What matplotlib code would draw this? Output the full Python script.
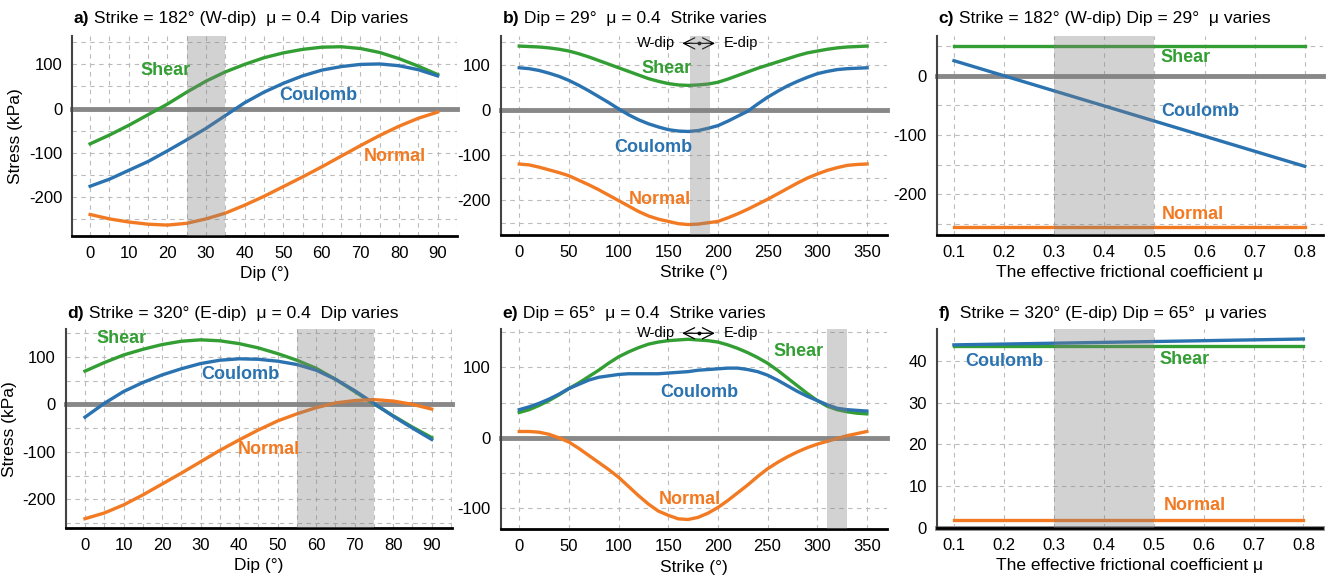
import matplotlib
matplotlib.use('Agg')
import matplotlib.pyplot as plt
from matplotlib.ticker import MultipleLocator, NullLocator

plt.rcParams['font.family'] = ['Liberation Sans', 'DejaVu Sans']
plt.rcParams['axes.unicode_minus'] = False

# x values
dip = list(range(0, 95, 5))
strike = list(range(0, 360, 10))
mu = [0.1, 0.2, 0.3, 0.4, 0.5, 0.6, 0.7, 0.8]

# a) strike 182 (W-dip), dip varies
a_shear = [-80, -60, -38, -14, 10, 37, 62, 83, 100, 115, 126, 134, 139, 140, 136, 127, 113, 96, 77]
a_coulomb = [-176, -160, -140, -120, -96, -71, -45, -16, 13, 37, 57, 74, 87, 95, 100, 101, 97, 88, 74]
a_normal = [-240, -250, -257, -262, -264, -260, -250, -237, -219, -199, -177, -155, -132, -108, -84, -61, -40, -22, -8]

# b) dip 29, strike varies
b_shear = [141, 140, 139, 137, 134, 130, 124, 117, 109, 101, 93, 85, 77, 69, 63, 58, 55, 54,
           55, 57, 61, 68, 76, 84, 92, 99, 106, 113, 120, 126, 130, 134, 137, 139, 140, 141]
b_coulomb = [93, 91, 87, 81, 74, 65, 54, 42, 29, 16, 2, -11, -22, -31, -38, -44, -47, -48,
             -46, -41, -35, -25, -14, -3, 13, 28, 41, 53, 63, 72, 80, 85, 89, 91, 92, 93]
b_normal = [-120, -122, -127, -133, -139, -146, -156, -166, -177, -189, -201, -213, -225, -235,
            -242, -247, -252, -254, -253, -250, -247, -239, -230, -220, -209, -198, -186, -174,
            -162, -151, -142, -134, -128, -123, -121, -120]

# c) strike 182, dip 29, mu varies
c_shear = [51, 51, 51, 51, 51, 51, 51, 51]
c_coulomb = [25.5, 0, -25.5, -51, -76.5, -102, -127.5, -153]
c_normal = [-255, -255, -255, -255, -255, -255, -255, -255]

# d) strike 320 (E-dip), dip varies
d_shear = [70, 88, 104, 116, 126, 133, 136, 134, 128, 119, 107, 93, 76, 53, 27, 1, -24, -48, -70]
d_coulomb = [-27, 2, 27, 46, 62, 75, 86, 93, 96, 95, 91, 84, 72, 53, 29, 2, -25, -50, -74]
d_normal = [-241, -229, -212, -191, -168, -145, -121, -97, -75, -54, -35, -20, -7, 3, 8, 10, 7, 0, -10]

# e) dip 65, strike varies
e_shear = [36, 40, 46, 53, 61, 70, 78, 87, 96, 106, 115, 122, 128, 133, 136, 138, 139, 140,
           139, 138, 136, 132, 127, 121, 114, 106, 96, 85, 74, 63, 53, 45, 40, 37, 35, 34]
e_coulomb = [40, 44, 49, 55, 62, 70, 76, 82, 86, 88, 90, 91, 91, 91, 91, 92, 93, 94,
             96, 97, 98, 99, 99, 97, 94, 89, 82, 74, 66, 59, 53, 47, 42, 40, 39, 38]
e_normal = [9, 9, 8, 5, 0, -6, -15, -25, -35, -45, -56, -69, -82, -94, -104, -110, -115, -116,
            -113, -107, -99, -89, -78, -67, -55, -44, -35, -27, -20, -14, -9, -5, -1, 3, 6, 9]

# f) strike 320, dip 65, mu varies
f_shear = [43.6, 43.6, 43.6, 43.6, 43.6, 43.6, 43.6, 43.6]
f_coulomb = [43.8, 44.0, 44.2, 44.4, 44.6, 44.8, 45.0, 45.2]
f_normal = [2.0, 2.0, 2.0, 2.0, 2.0, 2.0, 2.0, 2.0]

GREEN = '#339e33'
BLUE = '#2a72b0'
ORANGE = '#f27a22'


def setup(ax, xlim, ylim, xmaj, xmin, ymaj, ymin, xlabel, ylabel=None):
    ax.set_xlim(xlim)
    ax.set_ylim(ylim)
    ax.xaxis.set_major_locator(MultipleLocator(xmaj))
    ax.xaxis.set_minor_locator(MultipleLocator(xmin) if xmin else NullLocator())
    ax.yaxis.set_major_locator(MultipleLocator(ymaj))
    ax.yaxis.set_minor_locator(MultipleLocator(ymin) if ymin else NullLocator())
    ax.grid(which='both', ls=(0, (4, 4)), color='#bbbbbb', lw=0.8, zorder=0)
    ax.set_axisbelow(True)
    ax.tick_params(which='both', length=0, labelsize=12, pad=7)
    for s in ['top', 'right']:
        ax.spines[s].set_visible(False)
    ax.spines['left'].set_color('#444444')
    ax.spines['left'].set_linewidth(1.5)
    ax.spines['bottom'].set_color('black')
    ax.spines['bottom'].set_linewidth(2)
    ax.axhline(0, color='#888888', lw=3.5, zorder=1.5, clip_on=False)
    ax.set_xlabel(xlabel, fontsize=12.5, labelpad=4)
    if ylabel:
        ax.set_ylabel(ylabel, fontsize=12.5, labelpad=4)


def title(ax, letter, rest, y):
    t = ax.text(0.005, y, letter, transform=ax.transAxes, fontsize=12.6,
                fontweight='bold', va='center', ha='left')
    ax.annotate(rest, xy=(1, 0.5), xycoords=t, va='center', ha='left', fontsize=12.6)


def curves(ax, x, shear, coulomb, normal):
    ax.plot(x, shear, color=GREEN, lw=2.4, zorder=3)
    ax.plot(x, coulomb, color=BLUE, lw=2.4, zorder=3)
    ax.plot(x, normal, color=ORANGE, lw=2.4, zorder=3)


def label(ax, name, x, y, ha='center'):
    col = {'Shear': GREEN, 'Coulomb': BLUE, 'Normal': ORANGE}[name]
    ax.text(x, y, name, color=col, fontsize=13, fontweight='bold',
            ha=ha, va='center', zorder=5)


def band(ax, lo, hi):
    ax.axvspan(lo, hi, color='#808080', alpha=0.35, lw=0, zorder=4)


def dip_arrow(ax, y):
    ax.text(157, y, 'W-dip', ha='right', va='center', fontsize=10.5)
    ax.text(206, y, 'E-dip', ha='left', va='center', fontsize=10.5)
    ax.annotate('', xy=(197, y), xytext=(164, y),
                arrowprops=dict(arrowstyle='<->,head_length=0.5,head_width=0.25',
                                color='black', lw=0.9, shrinkA=0, shrinkB=0,
                                mutation_scale=16))
    ax.plot([180.5], [y], 'k.', ms=3.5)


fig = plt.figure(figsize=(13.33, 5.83), dpi=100)

ax_a = fig.add_axes([0.054, 0.595, 0.2888, 0.343])
ax_b = fig.add_axes([0.3756, 0.597, 0.2898, 0.341])
ax_c = fig.add_axes([0.7027, 0.597, 0.2898, 0.341])
ax_d = fig.add_axes([0.0493, 0.094, 0.2896, 0.341])
ax_e = fig.add_axes([0.3756, 0.092, 0.2896, 0.343])
ax_f = fig.add_axes([0.7027, 0.094, 0.2888, 0.341])

# a
setup(ax_a, (-4.7, 95), (-289, 164), 10, 5, 100, 50, 'Dip (°)', 'Stress (kPa)')
curves(ax_a, dip, a_shear, a_coulomb, a_normal)
band(ax_a, 25, 35)
label(ax_a, 'Shear', 19.4, 87)
label(ax_a, 'Coulomb', 59, 30)
label(ax_a, 'Normal', 79, -108)
title(ax_a, 'a)', ' Strike = 182° (W-dip)  μ = 0.4  Dip varies', 1.088)

# b
setup(ax_b, (-18.7, 370), (-277, 163), 50, None, 100, 50, 'Strike (°)')
curves(ax_b, strike, b_shear, b_coulomb, b_normal)
band(ax_b, 172, 192)
label(ax_b, 'Shear', 148, 91)
label(ax_b, 'Coulomb', 135, -83)
label(ax_b, 'Normal', 141, -199)
dip_arrow(ax_b, 147)
title(ax_b, 'b)', ' Dip = 29°  μ = 0.4  Strike varies', 1.088)

# c
setup(ax_c, (0.0655, 0.8365), (-269, 67), 0.1, None, 100, 50,
      'The effective frictional coefficient μ')
curves(ax_c, mu, c_shear, c_coulomb, c_normal)
band(ax_c, 0.3, 0.5)
label(ax_c, 'Shear', 0.512, 31, ha='left')
label(ax_c, 'Coulomb', 0.514, -60, ha='left')
label(ax_c, 'Normal', 0.514, -234, ha='left')
title(ax_c, 'c)', ' Strike = 182° (W-dip) Dip = 29°  μ varies', 1.088)

# d
setup(ax_d, (-5, 95.2), (-261, 158), 10, 5, 100, 50, 'Dip (°)', 'Stress (kPa)')
curves(ax_d, dip, d_shear, d_coulomb, d_normal)
band(ax_d, 55, 75)
label(ax_d, 'Shear', 9.5, 139)
label(ax_d, 'Coulomb', 40.3, 62)
label(ax_d, 'Normal', 47.6, -96)
title(ax_d, 'd)', ' Strike = 320° (E-dip)  μ = 0.4  Dip varies', 1.08)

# e
setup(ax_e, (-18.7, 370), (-130, 154), 50, None, 100, 50, 'Strike (°)')
curves(ax_e, strike, e_shear, e_coulomb, e_normal)
band(ax_e, 310, 330)
label(ax_e, 'Shear', 281, 122)
label(ax_e, 'Coulomb', 181, 65)
label(ax_e, 'Normal', 172, -87)
dip_arrow(ax_e, 148.5)
title(ax_e, 'e)', ' Dip = 65°  μ = 0.4  Strike varies', 1.08)

# f
setup(ax_f, (0.0655, 0.8365), (0, 47.5), 0.1, None, 10, None,
      'The effective frictional coefficient μ')
curves(ax_f, mu, f_shear, f_coulomb, f_normal)
band(ax_f, 0.3, 0.5)
label(ax_f, 'Coulomb', 0.122, 39.8, ha='left')
label(ax_f, 'Shear', 0.511, 40.3, ha='left')
label(ax_f, 'Normal', 0.521, 5.4, ha='left')
title(ax_f, 'f)', '  Strike = 320° (E-dip) Dip = 65°  μ varies', 1.08)

fig.savefig('out.png', dpi=100)
